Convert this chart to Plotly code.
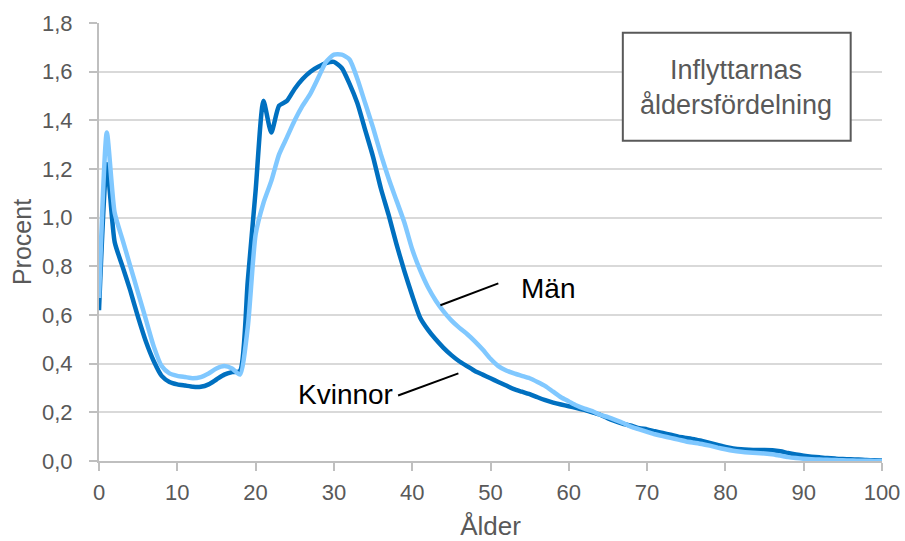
import plotly.graph_objects as go

ages = list(range(0, 101))

kvinnor = [
    0.62, 1.22, 0.90, 0.80, 0.70, 0.59, 0.49, 0.41, 0.35, 0.325,
    0.315, 0.31, 0.305, 0.305, 0.315, 0.335, 0.355, 0.365, 0.37, 0.74,
    1.11, 1.48, 1.35, 1.46, 1.48, 1.53, 1.57, 1.60, 1.62, 1.635,
    1.64, 1.615, 1.55, 1.47, 1.36, 1.25, 1.12, 1.01, 0.89, 0.78,
    0.68, 0.59, 0.54, 0.50, 0.465, 0.435, 0.41, 0.39, 0.37, 0.355,
    0.34, 0.325, 0.31, 0.295, 0.285, 0.275, 0.262, 0.25, 0.24, 0.232,
    0.225, 0.218, 0.21, 0.20, 0.19, 0.175, 0.163, 0.152, 0.145, 0.135,
    0.13, 0.122, 0.115, 0.108, 0.10, 0.095, 0.09, 0.082, 0.074, 0.066,
    0.058, 0.052, 0.048, 0.046, 0.045, 0.045, 0.044, 0.04, 0.033, 0.027,
    0.022, 0.018, 0.015, 0.012, 0.01, 0.008, 0.007, 0.006, 0.004, 0.003,
    0.002,
]

man = [
    0.67, 1.35, 1.02, 0.91, 0.80, 0.69, 0.58, 0.47, 0.39, 0.36,
    0.35, 0.345, 0.34, 0.345, 0.36, 0.38, 0.39, 0.38, 0.355, 0.55,
    0.93, 1.06, 1.15, 1.26, 1.33, 1.40, 1.46, 1.51, 1.575, 1.64,
    1.67, 1.67, 1.65, 1.57, 1.47, 1.37, 1.26, 1.16, 1.07, 0.98,
    0.87, 0.785, 0.715, 0.66, 0.615, 0.578, 0.548, 0.522, 0.492, 0.458,
    0.42, 0.39, 0.372, 0.36, 0.35, 0.34, 0.325, 0.308, 0.285, 0.262,
    0.245, 0.228, 0.215, 0.205, 0.19, 0.18, 0.168, 0.155, 0.14, 0.13,
    0.12, 0.11, 0.102, 0.095, 0.088, 0.08, 0.075, 0.07, 0.063, 0.055,
    0.048, 0.042, 0.038, 0.035, 0.033, 0.031, 0.028, 0.022, 0.016, 0.012,
    0.009, 0.007, 0.006, 0.005, 0.004, 0.003, 0.002, 0.001, 0.001, 0.0005,
    0.0,
]

x_ticks = [0, 10, 20, 30, 40, 50, 60, 70, 80, 90, 100]
y_ticks = [0.0, 0.2, 0.4, 0.6, 0.8, 1.0, 1.2, 1.4, 1.6, 1.8]

FONT = "Liberation Sans, Arial, sans-serif"
DARK = "#0070C0"
LIGHT = "#80C8FF"
GRAY_TXT = "#595959"

fig = go.Figure()
fig.add_trace(go.Scatter(x=ages, y=kvinnor, mode="lines", name="Kvinnor",
                         line=dict(color=DARK, width=4.5, shape="spline", smoothing=0.6)))
fig.add_trace(go.Scatter(x=ages, y=man, mode="lines", name="Män",
                         line=dict(color=LIGHT, width=4.5, shape="spline", smoothing=0.6)))

# leader lines
fig.add_shape(type="line", xref="x", yref="y", x0=43.6, y0=0.640, x1=51.0, y1=0.730,
              line=dict(color="black", width=2))
fig.add_shape(type="line", xref="x", yref="y", x0=38.2, y0=0.269, x1=45.9, y1=0.360,
              line=dict(color="black", width=2))
fig.add_annotation(x=57.3, y=0.71, xref="x", yref="y", text="Män", showarrow=False,
                   font=dict(family=FONT, size=28, color="black"))
fig.add_annotation(x=31.5, y=0.274, xref="x", yref="y", text="Kvinnor", showarrow=False,
                   font=dict(family=FONT, size=28, color="black"))

# title box
fig.add_shape(type="rect", xref="x", yref="y", x0=66.9, y0=1.316, x1=96.0, y1=1.760,
              line=dict(color="#595959", width=2), fillcolor="white", layer="above")
fig.add_annotation(x=81.4, y=1.536, xref="x", yref="y",
                   text="Inflyttarnas<br>åldersfördelning", showarrow=False,
                   font=dict(family=FONT, size=27, color=GRAY_TXT))

fig.update_layout(
    width=905, height=541,
    margin=dict(l=99, r=23, t=23, b=80),
    paper_bgcolor="white", plot_bgcolor="white",
    showlegend=False,
    separators=", ",
    font=dict(family=FONT, size=22, color=GRAY_TXT),
)
fig.update_xaxes(
    range=[0, 100], tickvals=x_ticks, showgrid=False, zeroline=False,
    showline=True, linecolor="#BFBFBF", linewidth=2,
    ticks="outside", ticklen=8, tickcolor="#BFBFBF", tickwidth=2,
    tickfont=dict(size=22, color=GRAY_TXT), ticklabelstandoff=3,
    automargin=False,
    title=dict(text="Ålder", font=dict(size=26, color=GRAY_TXT), standoff=17),
)
fig.update_yaxes(
    range=[0, 1.8], tickvals=y_ticks, tickformat=".1f",
    showgrid=True, gridcolor="#D9D9D9", gridwidth=2, zeroline=False,
    showline=True, linecolor="#BFBFBF", linewidth=2,
    ticks="outside", ticklen=8, tickcolor="#BFBFBF", tickwidth=2,
    tickfont=dict(size=22, color=GRAY_TXT), ticklabelstandoff=12,
    automargin=False,
    title=dict(text="Procent", font=dict(size=25, color=GRAY_TXT), standoff=3),
)

fig.write_html("out.html", config={"displayModeBar": False},
               post_script="document.body.style.margin='0px';document.body.style.overflow='hidden';")
